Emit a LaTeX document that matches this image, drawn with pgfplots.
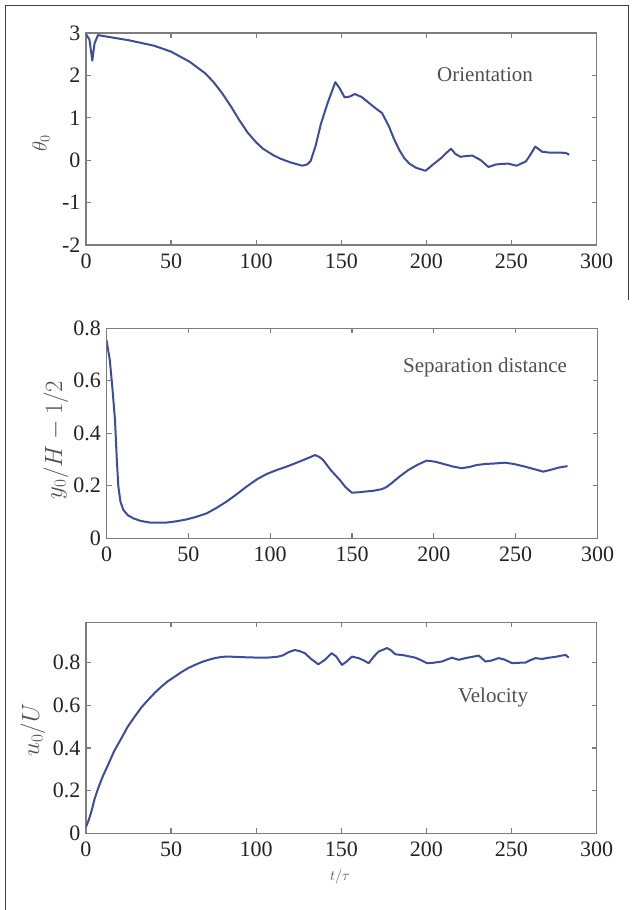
\documentclass[border=0pt]{standalone}
\usepackage{pgfplots}
\pgfplotsset{compat=1.18}
\usepackage{fontspec}
\setmainfont{Liberation Serif}

\definecolor{curve}{RGB}{62,76,156}
\definecolor{axisgray}{RGB}{125,125,125}
\definecolor{txt}{RGB}{35,35,35}
\definecolor{lbl}{RGB}{80,80,80}

\pgfplotsset{
  mstyle/.style={
    scale only axis,
    anchor=south west,
    xmin=0, xmax=300,
    xtick={0,50,...,300},
    axis line style={axisgray, line width=1.4pt},
    tick style={axisgray, line width=1.2pt},
    major tick length=5pt,
    tick align=inside,
    ticklabel style={font=\fontsize{22}{24}\selectfont, text=txt},
    xticklabel style={yshift=-5pt},
    yticklabel style={xshift=-2pt},
    /pgf/number format/assume math mode=true,
  },
  mline/.style={curve, line width=2pt, no markers, line join=round},
}

\begin{document}
\begin{tikzpicture}
\useasboundingbox (0pt,0pt) rectangle (634pt,910pt);
% frame
\draw[black!75, line width=1pt] (5pt,0pt) -- (5pt,904pt) -- (628pt,904pt) -- (628pt,610pt);

% orientation
\begin{axis}[mstyle, at={(86pt,665pt)}, width=510.5pt, height=212pt,
  ymin=-2, ymax=3, ytick={-2,-1,0,1,2,3}]
\addplot[mline] coordinates {
(0,2.97) (2,2.85) (3.7,2.35) (5,2.75) (7,2.95) (10,2.93) (25,2.83) (40,2.70)
(50,2.56) (61,2.32) (70,2.05) (75,1.84) (80,1.58) (85,1.28) (90,0.95) (95,0.65)
(100,0.42) (104,0.27) (110,0.12) (114,0.04) (120,-0.05) (127,-0.13) (130,-0.10)
(132,-0.02) (135,0.35) (138,0.85) (142,1.35) (146.5,1.84) (149,1.70) (152,1.48)
(155,1.50) (158,1.56) (162,1.49) (166,1.36) (170,1.23) (174,1.11) (178,0.80)
(181,0.50) (184,0.25) (187,0.05) (190,-0.08) (194,-0.18) (199.5,-0.25) (204,-0.10)
(209,0.06) (212,0.18) (214.5,0.27) (217,0.15) (220,0.08) (224,0.10) (227,0.11)
(232,0.00) (236.5,-0.16) (241,-0.10) (248,-0.08) (253,-0.13) (258.5,-0.03)
(261,0.12) (264,0.32) (268,0.20) (272,0.18) (278,0.18) (282,0.17) (284,0.13)
};
\end{axis}

% separation distance
\begin{axis}[mstyle, at={(106.5pt,371.7pt)}, width=491pt, height=210pt,
  ymin=0, ymax=0.8, ytick={0,0.2,0.4,0.6,0.8}]
\addplot[mline] coordinates {
(0,0.755) (2,0.68) (3.5,0.58) (5.2,0.45) (6.3,0.30) (7.2,0.20) (8.5,0.14)
(10.3,0.108) (13,0.088) (16.4,0.076) (21,0.066) (26.6,0.06) (36.8,0.06)
(43,0.065) (49,0.072) (55,0.082) (61.2,0.095) (67,0.115) (73.4,0.14) (80,0.17)
(85.6,0.197) (92,0.225) (97.9,0.245) (104,0.26) (110,0.273) (115,0.285)
(120.2,0.298) (124,0.308) (127.4,0.317) (130,0.31) (132.4,0.298) (137,0.26)
(142.6,0.222) (146,0.195) (149.8,0.174) (154,0.175) (157.9,0.178) (163,0.181)
(168.1,0.187) (171,0.195) (174.2,0.21) (179,0.235) (184.4,0.26) (190,0.28)
(195.6,0.296) (200.7,0.292) (206,0.283) (212,0.273) (217,0.267) (222,0.272)
(226,0.279) (231.2,0.283) (237,0.285) (243.5,0.288) (249,0.283) (255.7,0.273)
(261,0.264) (266.8,0.254) (271,0.26) (276,0.269) (281.7,0.275)
};
\end{axis}

% velocity
\begin{axis}[mstyle, at={(86pt,76.7pt)}, width=510.5pt, height=211pt,
  ymin=0, ymax=0.99, ytick={0,0.2,0.4,0.6,0.8}]
\addplot[mline] coordinates {
(0,0.03) (1.5,0.06) (3.1,0.10) (5,0.16) (7.1,0.21) (10,0.27) (12.9,0.32)
(16.5,0.385) (20.8,0.446) (24.5,0.50) (28.6,0.547) (32.5,0.59) (36.5,0.626)
(40.5,0.66) (44.3,0.688) (48,0.713) (52.2,0.735) (56,0.756) (60,0.775) (64,0.79)
(67.8,0.803) (72,0.814) (75.7,0.822) (80,0.828) (83.5,0.829) (88,0.828)
(93.3,0.826) (98,0.825) (103.1,0.824) (108,0.825) (113,0.829) (116,0.836)
(119,0.85) (122.7,0.86) (125.5,0.855) (128.6,0.845) (132,0.82) (136.5,0.793)
(140.4,0.814) (144.3,0.845) (147,0.83) (150.4,0.79) (153,0.805) (156.3,0.829)
(160.2,0.822) (163,0.812) (166.1,0.798) (169,0.828) (172,0.853) (176.9,0.869)
(179,0.86) (181.8,0.84) (187,0.835) (193.5,0.824) (197,0.812) (200.4,0.798)
(204,0.80) (209.2,0.806) (212,0.815) (215.1,0.824) (219,0.814) (223,0.822)
(227,0.828) (230.8,0.834) (234.7,0.806) (238,0.81) (242.5,0.822) (246,0.815)
(250.4,0.798) (254,0.80) (258.2,0.801) (261,0.812) (264.1,0.822) (268,0.818)
(272,0.824) (276,0.828) (279,0.833) (281.8,0.837) (283.7,0.824)
};
\end{axis}

% texts
\node[text=lbl, font=\fontsize{21}{24}\selectfont] at (485pt,835pt) {Orientation};
\node[text=lbl, font=\fontsize{21}{24}\selectfont] at (485pt,543pt) {Separation distance};
\node[text=lbl, font=\fontsize{21}{24}\selectfont] at (493pt,213pt) {Velocity};
\node[text=lbl, rotate=90, font=\fontsize{22}{24}\selectfont] at (41pt,767pt) {$\theta_0$};
\node[text=lbl, rotate=90, font=\fontsize{25}{28}\selectfont] at (56pt,470pt) {$y_0/H-1/2$};
\node[text=lbl, rotate=90, font=\fontsize{25}{28}\selectfont] at (33pt,180pt) {$u_0/U$};
\node[text=lbl, font=\fontsize{15}{17}\selectfont] at (340pt,33pt) {$t/\tau$};
\end{tikzpicture}
\end{document}
